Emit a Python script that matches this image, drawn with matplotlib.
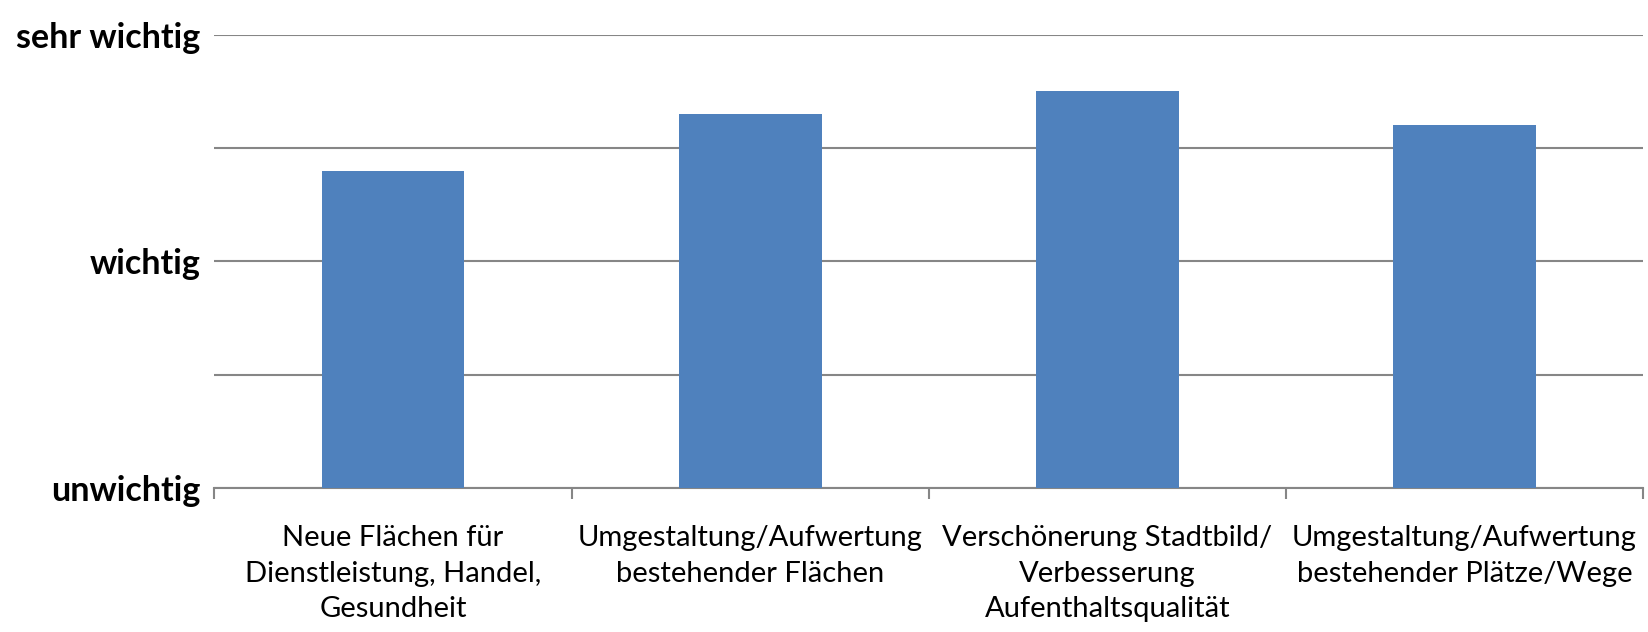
import matplotlib.pyplot as plt

# data
categories = ['Neue Flächen für\nDienstleistung, Handel,\nGesundheit',
              'Umgestaltung/Aufwertung\nbestehender Flächen',
              'Verschönerung Stadtbild/\nVerbesserung\nAufenthaltsqualität',
              'Umgestaltung/Aufwertung\nbestehender Plätze/Wege']
values = [2.40, 2.65, 2.75, 2.60]
scale_ticks = [1, 1.5, 2, 2.5, 3]
scale_labels = ['unwichtig', '', 'wichtig', '', 'sehr wichtig']

plt.rcParams['font.family'] = ['Lato', 'DejaVu Sans']

fig = plt.figure(figsize=(16.49, 6.32), dpi=100)
ax = fig.add_axes([0.130, 0.228, 0.8664, 0.717])

x = range(len(categories))
ax.bar(x, values, width=0.4, color='#4F81BD', zorder=3)

# grid lines
ax.set_ylim(1, 3)
ax.set_yticks(scale_ticks)
ax.set_yticklabels(scale_labels, fontsize=24.5, fontweight='bold')
ax.tick_params(axis='y', length=0, pad=10)
ax.yaxis.grid(True, color='#868686', linewidth=1.5, zorder=0)

# category ticks
ax.set_xlim(-0.5, len(categories) - 0.5)
ax.set_xticks(list(x))
ax.set_xticklabels(categories, fontsize=21, linespacing=1.45)
ax.set_xticks([i - 0.5 for i in range(len(categories) + 1)], minor=True)
ax.tick_params(axis='x', which='major', length=0, pad=27)
ax.tick_params(axis='x', which='minor', length=8, width=1.5, color='#868686')

for s in ['left', 'right', 'top']:
    ax.spines[s].set_visible(False)
ax.spines['bottom'].set_color('#868686')
ax.spines['bottom'].set_linewidth(1.5)

fig.savefig('out.png', dpi=100)
